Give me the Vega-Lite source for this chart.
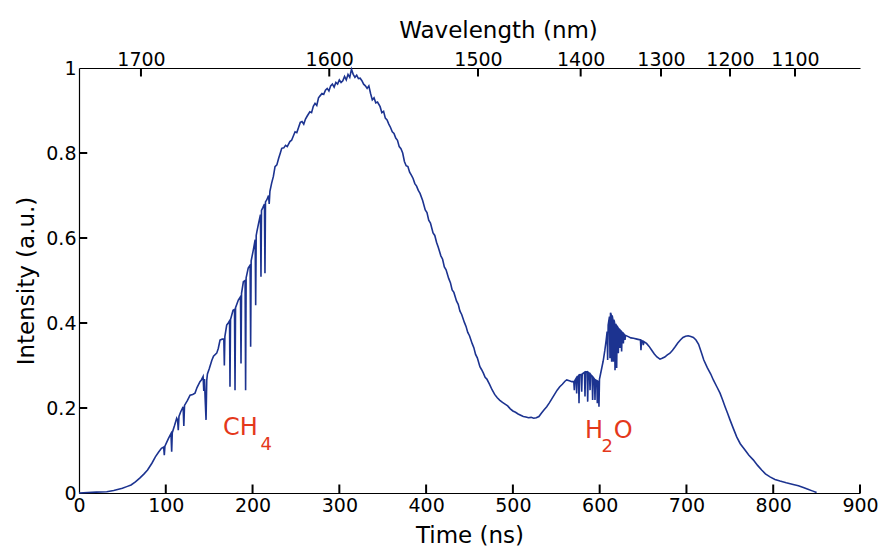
{
 "$schema": "https://vega.github.io/schema/vega-lite/v6.json",
 "width": 781, "height": 425,
 "autosize": {"type": "none"},
 "padding": {"left": 79, "top": 68, "right": 21, "bottom": 53},
 "background": "white",
 "config": {
  "view": {"stroke": null},
  "font": "DejaVu Sans",
  "axis": {"grid": false, "domainColor": "black", "tickColor": "black", "labelColor": "black", "titleColor": "black",
   "labelFont": "DejaVu Sans", "titleFont": "DejaVu Sans", "labelFontSize": 19, "titleFontSize": 23, "titleFontWeight": "normal",
   "domainWidth": 1.2, "ticks": false, "labelFlush": false}
 },
 "layer": [
  {
   "data": {"values": [
    {"t":0,"v":0.0},{"t":10,"v":0.001},{"t":20,"v":0.002},{"t":32,"v":0.003},{"t":40,"v":0.006},{"t":50,"v":0.011},{"t":55,"v":0.015},{"t":60,"v":0.019},{"t":65,"v":0.026},{"t":70,"v":0.035},{"t":75,"v":0.045},{"t":79,"v":0.054},{"t":84,"v":0.07},{"t":88,"v":0.085},{"t":92,"v":0.097},{"t":95,"v":0.105},{"t":97.6,"v":0.108},{"t":98.3,"v":0.089},{"t":99,"v":0.11},{"t":103,"v":0.128},{"t":106,"v":0.14},{"t":106.8,"v":0.097},{"t":107.5,"v":0.142},{"t":110,"v":0.158},{"t":112.6,"v":0.176},{"t":113.6,"v":0.172},{"t":114.4,"v":0.148},{"t":115.2,"v":0.18},{"t":117,"v":0.19},{"t":120,"v":0.203},{"t":120.8,"v":0.158},{"t":121.6,"v":0.206},{"t":125,"v":0.218},{"t":128,"v":0.23},{"t":131,"v":0.232},{"t":133.7,"v":0.235},{"t":136,"v":0.248},{"t":139.4,"v":0.262},{"t":141,"v":0.266},{"t":143,"v":0.274},{"t":143.8,"v":0.24},{"t":144.6,"v":0.268},{"t":145.4,"v":0.22},{"t":146.4,"v":0.172},{"t":147.2,"v":0.265},{"t":148,"v":0.28},{"t":150,"v":0.292},{"t":153,"v":0.312},{"t":155,"v":0.322},{"t":158.7,"v":0.329},{"t":160.5,"v":0.34},{"t":162.5,"v":0.36},{"t":165,"v":0.362},{"t":166.9,"v":0.362},{"t":167.5,"v":0.3},{"t":168.1,"v":0.368},{"t":170.2,"v":0.395},{"t":172,"v":0.4},{"t":173.5,"v":0.405},{"t":174,"v":0.25},{"t":174.6,"v":0.408},{"t":177.5,"v":0.43},{"t":179.2,"v":0.432},{"t":179.8,"v":0.242},{"t":180.4,"v":0.436},{"t":183.6,"v":0.454},{"t":186.1,"v":0.462},{"t":186.7,"v":0.305},{"t":187.3,"v":0.47},{"t":189.4,"v":0.497},{"t":191.4,"v":0.5},{"t":192,"v":0.242},{"t":192.6,"v":0.506},{"t":195,"v":0.529},{"t":197.2,"v":0.536},{"t":197.8,"v":0.344},{"t":198.4,"v":0.546},{"t":200.9,"v":0.572},{"t":203,"v":0.596},{"t":203.6,"v":0.442},{"t":204.2,"v":0.606},{"t":205,"v":0.615},{"t":207,"v":0.635},{"t":209.1,"v":0.655},{"t":209.7,"v":0.509},{"t":210.3,"v":0.665},{"t":212,"v":0.672},{"t":213.7,"v":0.68},{"t":214.3,"v":0.517},{"t":214.9,"v":0.685},{"t":216.5,"v":0.69},{"t":218.4,"v":0.7},{"t":219.2,"v":0.68},{"t":220,"v":0.71},{"t":222,"v":0.729},{"t":224,"v":0.745},{"t":225.9,"v":0.768},{"t":228,"v":0.772},{"t":230,"v":0.787},{"t":232,"v":0.8},{"t":233.6,"v":0.811},{"t":236,"v":0.812},{"t":238,"v":0.818},{"t":240,"v":0.815},{"t":243,"v":0.827},{"t":245,"v":0.83},{"t":247,"v":0.84},{"t":249,"v":0.85},{"t":251,"v":0.848},{"t":253,"v":0.86},{"t":255,"v":0.872},{"t":257,"v":0.874},{"t":259,"v":0.868},{"t":261,"v":0.88},{"t":263,"v":0.887},{"t":266,"v":0.897},{"t":268,"v":0.895},{"t":270,"v":0.91},{"t":272,"v":0.917},{"t":274,"v":0.912},{"t":276,"v":0.93},{"t":278,"v":0.935},{"t":280,"v":0.94},{"t":282,"v":0.938},{"t":284,"v":0.948},{"t":286,"v":0.952},{"t":288,"v":0.946},{"t":290,"v":0.958},{"t":292,"v":0.962},{"t":294,"v":0.955},{"t":296,"v":0.966},{"t":298,"v":0.962},{"t":300,"v":0.972},{"t":302,"v":0.966},{"t":304,"v":0.97},{"t":306,"v":0.98},{"t":308,"v":0.972},{"t":310,"v":0.985},{"t":312,"v":0.978},{"t":314,"v":0.997},{"t":316,"v":0.985},{"t":318,"v":0.978},{"t":320,"v":0.983},{"t":322,"v":0.975},{"t":324,"v":0.976},{"t":326,"v":0.97},{"t":328,"v":0.962},{"t":330,"v":0.958},{"t":332,"v":0.952},{"t":334,"v":0.958},{"t":336,"v":0.94},{"t":338,"v":0.925},{"t":340,"v":0.93},{"t":342,"v":0.918},{"t":344,"v":0.92},{"t":347,"v":0.909},{"t":349,"v":0.895},{"t":351,"v":0.898},{"t":353,"v":0.882},{"t":355,"v":0.878},{"t":357,"v":0.868},{"t":359,"v":0.86},{"t":361,"v":0.85},{"t":363,"v":0.846},{"t":365,"v":0.835},{"t":367,"v":0.83},{"t":369,"v":0.815},{"t":371,"v":0.81},{"t":373,"v":0.8},{"t":375,"v":0.78},{"t":377,"v":0.77},{"t":379,"v":0.768},{"t":381,"v":0.755},{"t":383,"v":0.748},{"t":385,"v":0.74},{"t":387,"v":0.728},{"t":389,"v":0.722},{"t":391,"v":0.712},{"t":393,"v":0.705},{"t":396,"v":0.688},{"t":399,"v":0.666},{"t":401,"v":0.66},{"t":403,"v":0.642},{"t":405,"v":0.635},{"t":408,"v":0.612},{"t":410,"v":0.606},{"t":412,"v":0.59},{"t":414,"v":0.578},{"t":417,"v":0.558},{"t":419,"v":0.55},{"t":421,"v":0.532},{"t":423,"v":0.525},{"t":426,"v":0.505},{"t":428,"v":0.495},{"t":430,"v":0.478},{"t":432,"v":0.472},{"t":435,"v":0.452},{"t":437,"v":0.444},{"t":439,"v":0.428},{"t":441,"v":0.42},{"t":444,"v":0.402},{"t":446,"v":0.392},{"t":448,"v":0.378},{"t":450,"v":0.37},{"t":453,"v":0.352},{"t":455,"v":0.342},{"t":457,"v":0.326},{"t":459,"v":0.318},{"t":462,"v":0.297},{"t":464,"v":0.29},{"t":466,"v":0.282},{"t":468,"v":0.272},{"t":470,"v":0.268},{"t":473,"v":0.256},{"t":476,"v":0.243},{"t":479,"v":0.232},{"t":482,"v":0.224},{"t":485,"v":0.218},{"t":488,"v":0.213},{"t":491,"v":0.209},{"t":494,"v":0.205},{"t":497,"v":0.198},{"t":500,"v":0.193},{"t":503,"v":0.19},{"t":506,"v":0.186},{"t":509,"v":0.183},{"t":512,"v":0.18},{"t":515,"v":0.179},{"t":518,"v":0.177},{"t":521,"v":0.178},{"t":524,"v":0.176},{"t":527,"v":0.177},{"t":530,"v":0.18},{"t":533,"v":0.188},{"t":536,"v":0.196},{"t":539,"v":0.203},{"t":542,"v":0.212},{"t":545,"v":0.222},{"t":548,"v":0.232},{"t":551,"v":0.242},{"t":554,"v":0.25},{"t":557,"v":0.256},{"t":560,"v":0.263},{"t":562,"v":0.266},{"t":565,"v":0.264},{"t":568,"v":0.262},{"t":570.2,"v":0.262},{"t":570.8,"v":0.242},{"t":571.4,"v":0.265},{"t":572.9,"v":0.27},{"t":573.5,"v":0.234},{"t":574.1,"v":0.272},{"t":575.6,"v":0.276},{"t":576.2,"v":0.211},{"t":576.8,"v":0.278},{"t":578.7,"v":0.279},{"t":579.3,"v":0.238},{"t":579.9,"v":0.28},{"t":582.5,"v":0.284},{"t":583.1,"v":0.227},{"t":583.7,"v":0.285},{"t":585.6,"v":0.285},{"t":586.2,"v":0.215},{"t":586.8,"v":0.284},{"t":588.3,"v":0.281},{"t":588.9,"v":0.242},{"t":589.5,"v":0.279},{"t":591.3,"v":0.274},{"t":591.9,"v":0.219},{"t":592.5,"v":0.272},{"t":594,"v":0.268},{"t":594.6,"v":0.219},{"t":595.2,"v":0.266},{"t":596.7,"v":0.264},{"t":597.3,"v":0.211},{"t":597.9,"v":0.263},{"t":598.6,"v":0.262},{"t":599.2,"v":0.203},{"t":599.8,"v":0.268},{"t":601,"v":0.28},{"t":602,"v":0.29},{"t":604,"v":0.31},{"t":606,"v":0.336},{"t":607.5,"v":0.36},{"t":608.6,"v":0.38},{"t":609.2,"v":0.313},{"t":609.8,"v":0.395},{"t":611.3,"v":0.415},{"t":611.9,"v":0.317},{"t":612.5,"v":0.424},{"t":613.2,"v":0.42},{"t":613.8,"v":0.309},{"t":614.4,"v":0.418},{"t":615.1,"v":0.41},{"t":615.7,"v":0.309},{"t":616.3,"v":0.408},{"t":617.1,"v":0.402},{"t":617.7,"v":0.289},{"t":618.3,"v":0.398},{"t":619,"v":0.395},{"t":619.6,"v":0.294},{"t":620.2,"v":0.392},{"t":620.9,"v":0.39},{"t":621.5,"v":0.329},{"t":622.1,"v":0.386},{"t":622.8,"v":0.384},{"t":623.4,"v":0.341},{"t":624,"v":0.382},{"t":624.7,"v":0.38},{"t":625.3,"v":0.333},{"t":625.9,"v":0.378},{"t":626.6,"v":0.376},{"t":627.3,"v":0.352},{"t":627.9,"v":0.374},{"t":628.6,"v":0.372},{"t":629.2,"v":0.36},{"t":629.8,"v":0.371},{"t":633,"v":0.368},{"t":636,"v":0.365},{"t":639,"v":0.364},{"t":643,"v":0.362},{"t":647,"v":0.36},{"t":647.6,"v":0.336},{"t":648.2,"v":0.359},{"t":649.7,"v":0.357},{"t":650.3,"v":0.348},{"t":650.9,"v":0.356},{"t":654,"v":0.352},{"t":657,"v":0.345},{"t":660,"v":0.336},{"t":663,"v":0.327},{"t":666,"v":0.32},{"t":669.5,"v":0.315},{"t":672,"v":0.317},{"t":675,"v":0.32},{"t":678,"v":0.325},{"t":681,"v":0.329},{"t":684,"v":0.336},{"t":687,"v":0.344},{"t":690,"v":0.353},{"t":693,"v":0.36},{"t":696,"v":0.366},{"t":699,"v":0.369},{"t":702,"v":0.37},{"t":705,"v":0.368},{"t":708,"v":0.366},{"t":711,"v":0.36},{"t":714,"v":0.35},{"t":717,"v":0.332},{"t":720,"v":0.313},{"t":724,"v":0.295},{"t":728,"v":0.28},{"t":731,"v":0.266},{"t":735,"v":0.25},{"t":738.7,"v":0.235},{"t":741.5,"v":0.22},{"t":744.5,"v":0.203},{"t":747.5,"v":0.187},{"t":750.2,"v":0.172},{"t":754,"v":0.152},{"t":757.9,"v":0.132},{"t":762,"v":0.116},{"t":767.5,"v":0.101},{"t":772,"v":0.089},{"t":777,"v":0.078},{"t":782,"v":0.065},{"t":786.7,"v":0.054},{"t":791,"v":0.045},{"t":796.3,"v":0.038},{"t":802,"v":0.032},{"t":807.8,"v":0.028},{"t":815,"v":0.024},{"t":823,"v":0.02},{"t":829,"v":0.017},{"t":834.7,"v":0.013},{"t":840,"v":0.009},{"t":845,"v":0.005},{"t":850,"v":0.001}
   ]},
   "mark": {"type": "line", "color": "#1c3390", "strokeWidth": 1.6},
   "encoding": {
    "x": {"field": "t", "type": "quantitative", "scale": {"domain": [0, 900], "nice": false, "zero": false},
     "axis": {"orient": "bottom", "values": [0,100,200,300,400,500,600,700,800,900], "title": "Time (ns)", "labelPadding": 3,
      "titleX": 390.5, "titleY": 49, "titleAlign": "center", "titleBaseline": "alphabetic"}},
    "y": {"field": "v", "type": "quantitative", "scale": {"domain": [0, 1], "nice": false},
     "axis": {"orient": "left", "values": [0,0.2,0.4,0.6,0.8,1], "format": "~g", "title": "Intensity (a.u.)", "labelPadding": 3,
      "titleX": -46, "titleY": 212.5, "titleAngle": -90, "titleAlign": "center", "titleBaseline": "alphabetic"}}
   }
  },
  {
   "data": {"values": [{"t":166,"v":0.1365,"s":"CH"},{"t":583.1,"v":0.129,"s":"H"},{"t":616.2,"v":0.129,"s":"O"}]},
   "mark": {"type": "text", "color": "#e4381b", "fontSize": 24, "align": "left", "baseline": "alphabetic", "font": "DejaVu Sans"},
   "encoding": {
    "x": {"field": "t", "type": "quantitative",
     "axis": {"orient": "top", "values": [71.4,288.4,459.8,578.1,670.7,750.2,825.1],
      "labelExpr": "datum.value < 100 ? '1700' : datum.value < 300 ? '1600' : datum.value < 500 ? '1500' : datum.value < 600 ? '1400' : datum.value < 700 ? '1300' : datum.value < 800 ? '1200' : '1100'",
      "title": "Wavelength (nm)", "labelPadding": 3, "labelBaseline": "alphabetic",
      "titleX": 419, "titleY": -31, "titleAlign": "center", "titleBaseline": "alphabetic"}},
    "y": {"field": "v", "type": "quantitative"},
    "text": {"field": "s"}
   }
  },
  {
   "data": {"values": [{"t":209.2,"v":0.101,"s":"4"},{"t":602.1,"v":0.097,"s":"2"}]},
   "mark": {"type": "text", "color": "#e4381b", "fontSize": 18, "align": "left", "baseline": "alphabetic", "font": "DejaVu Sans"},
   "encoding": {
    "x": {"field": "t", "type": "quantitative", "axis": null},
    "y": {"field": "v", "type": "quantitative"},
    "text": {"field": "s"}
   }
  },
  {
   "data": {"values": [{"t":100},{"t":200},{"t":300},{"t":400},{"t":500},{"t":600},{"t":700},{"t":800},{"t":900}]},
   "mark": {"type": "rule", "color": "#000000", "strokeWidth": 2},
   "encoding": {
    "x": {"field": "t", "type": "quantitative", "axis": null},
    "y": {"datum": 0, "type": "quantitative"},
    "y2": {"datum": 0.02}
   }
  },
  {
   "data": {"values": [{"t":71.4},{"t":288.4},{"t":459.8},{"t":578.1},{"t":670.7},{"t":750.2},{"t":825.1}]},
   "mark": {"type": "rule", "color": "#000000", "strokeWidth": 2},
   "encoding": {
    "x": {"field": "t", "type": "quantitative", "axis": null},
    "y": {"datum": 1, "type": "quantitative"},
    "y2": {"datum": 0.98}
   }
  },
  {
   "data": {"values": [{"v":0.2},{"v":0.4},{"v":0.6},{"v":0.8}]},
   "mark": {"type": "rule", "color": "#000000", "strokeWidth": 2},
   "encoding": {
    "x": {"datum": 0, "type": "quantitative", "axis": null},
    "x2": {"datum": 9.5},
    "y": {"field": "v", "type": "quantitative"}
   }
  }
 ],
 "resolve": {"axis": {"x": "independent"}}
}
